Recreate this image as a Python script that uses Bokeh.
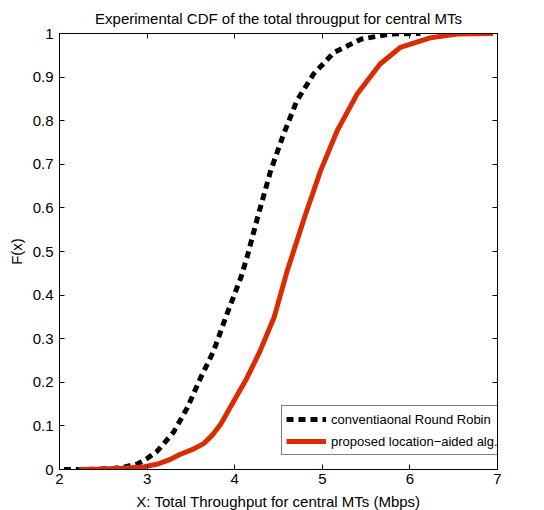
from bokeh.plotting import figure
from bokeh.models import (Range1d, LinearAxis, FixedTicker, CustomJSTickFormatter,
                          Legend, LegendItem)
from bokeh.embed import file_html
from bokeh.resources import INLINE

# Conventional Round Robin CDF
rr_x = [2.05, 2.30, 2.60, 2.75, 2.89, 3.00, 3.115, 3.30, 3.46, 3.61, 3.76, 3.91, 4.07,
        4.14, 4.257, 4.41, 4.56, 4.71, 4.90, 5.13, 5.44, 5.78, 6.00, 6.12]
rr_y = [0.0, 0.0, 0.002, 0.006, 0.013, 0.025, 0.042, 0.085, 0.142, 0.21, 0.272, 0.356, 0.44,
        0.486, 0.575, 0.685, 0.77, 0.846, 0.907, 0.956, 0.987, 0.999, 1.0, 1.0]

# Proposed location-aided algorithm CDF
pl_x = [2.22, 2.50, 2.73, 2.95, 3.115, 3.25, 3.38, 3.52, 3.65, 3.75, 3.84, 3.99, 4.14, 4.29,
        4.45, 4.60, 4.81, 4.98, 5.17, 5.40, 5.66, 5.89, 6.23, 6.54, 6.95]
pl_y = [0.0, 0.001, 0.003, 0.006, 0.012, 0.022, 0.035, 0.046, 0.060, 0.080, 0.104, 0.157,
        0.21, 0.272, 0.349, 0.456, 0.586, 0.685, 0.777, 0.862, 0.93, 0.968, 0.99, 0.999, 1.0]

x_ticks = [2, 3, 4, 5, 6, 7]
y_ticks = [0, 0.1, 0.2, 0.3, 0.4, 0.5, 0.6, 0.7, 0.8, 0.9, 1]

FONT = "Liberation Sans"
RED = "#DB2B00"

p = figure(frame_width=438, frame_height=436, output_backend="svg", toolbar_location=None,
           x_range=Range1d(2, 7), y_range=Range1d(0, 1),
           min_border_left=59, min_border_right=45, min_border_top=33, min_border_bottom=40,
           title="Experimental CDF of the total througput for central MTs")
p.title.text_font = FONT
p.title.text_font_size = "15px"
p.title.text_font_style = "normal"
p.title.text_color = "black"
p.title.align = "center"
p.title.standoff = 14
p.title.offset = 0

p.xgrid.visible = False
p.ygrid.visible = False
p.outline_line_color = "black"
p.outline_line_width = 1
p.background_fill_color = "white"
p.border_fill_color = "white"

fmt = CustomJSTickFormatter(code="return String(Math.round(tick*10)/10);")

for ax, ticks in ((p.xaxis[0], x_ticks), (p.yaxis[0], y_ticks)):
    ax.ticker = FixedTicker(ticks=ticks)
    ax.formatter = fmt
    ax.major_tick_in = 5
    ax.major_tick_out = 0
    ax.minor_tick_in = 0
    ax.minor_tick_out = 0
    ax.major_label_text_font = FONT
    ax.major_label_text_font_size = "15px"
    ax.major_label_text_color = "black"
    ax.axis_label_text_font = FONT
    ax.axis_label_text_font_size = "15px"
    ax.axis_label_text_font_style = "normal"
    ax.axis_label_text_color = "black"
    ax.axis_line_color = "black"

p.xaxis.major_label_standoff = 4
p.xaxis.axis_label_standoff = 6
p.yaxis.major_label_standoff = 6
p.yaxis.axis_label_standoff = 5
p.xaxis.axis_label = "X: Total Throughput for central MTs (Mbps)"
p.yaxis.axis_label = "F(x)"

# mirrored ticks on top and right (no labels)
blank = CustomJSTickFormatter(code="return '';")
top = LinearAxis(ticker=FixedTicker(ticks=x_ticks), formatter=blank, major_tick_in=5,
                 major_tick_out=0, minor_tick_in=0, minor_tick_out=0,
                 major_label_text_font_size="0px", major_label_standoff=0,
                 axis_line_color="black")
right = LinearAxis(ticker=FixedTicker(ticks=y_ticks), formatter=blank, major_tick_in=5,
                   major_tick_out=0, minor_tick_in=0, minor_tick_out=0,
                   major_label_text_font_size="0px", major_label_standoff=0,
                   axis_line_color="black")
p.add_layout(top, "above")
p.add_layout(right, "right")

r1 = p.line(rr_x, rr_y, line_color="black", line_width=5, line_dash="7 5", line_cap="butt")
r2 = p.line(pl_x, pl_y, line_color=RED, line_width=5)

legend = Legend(items=[LegendItem(label="conventiaonal Round Robin", renderers=[r1]),
                       LegendItem(label="proposed location\u2212aided alg.", renderers=[r2])],
                location=(222, 14), orientation="vertical")
legend.label_text_font = FONT
legend.label_text_font_size = "13px"
legend.label_text_color = "black"
legend.glyph_width = 40
legend.glyph_height = 18
legend.label_standoff = 5
legend.spacing = 4
legend.padding = 4
legend.margin = 0
legend.border_line_color = "black"
legend.border_line_width = 1
legend.background_fill_alpha = 1
p.add_layout(legend, "center")

open("out.html", "w").write(file_html(p, INLINE))
